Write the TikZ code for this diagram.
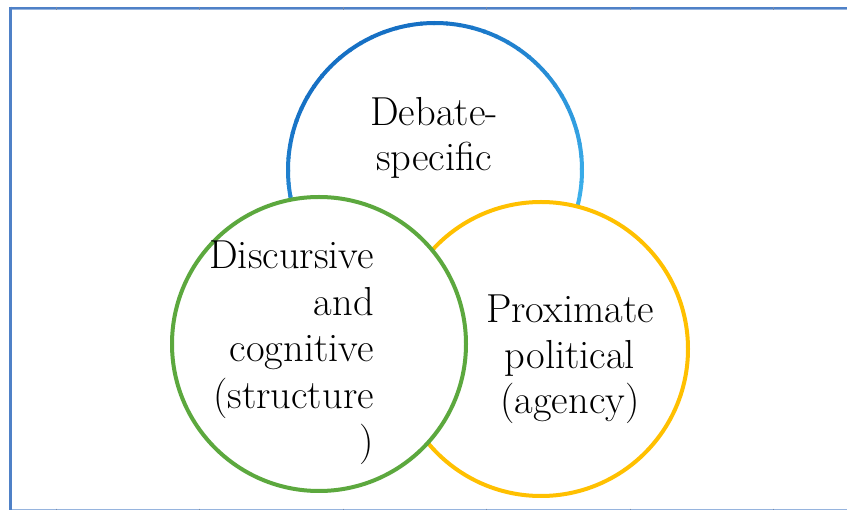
\documentclass[tikz,border=0pt]{standalone}
\definecolor{frameblue}{RGB}{79,129,199}
\definecolor{framelight}{RGB}{150,180,222}
\definecolor{tickgray}{RGB}{120,140,170}
\definecolor{ringdark}{RGB}{22,112,196}
\definecolor{ringlight}{RGB}{70,192,245}
\definecolor{ringgreen}{RGB}{92,168,62}
\definecolor{ringgold}{RGB}{255,192,0}
\begin{document}
\begin{tikzpicture}[x=1pt,y=-1pt,
  ring/.style={circle, minimum size=294pt, inner sep=0pt, outer sep=0pt,
               fill=white, line width=4pt},
  ringtext/.style={inner sep=0pt, font=\fontsize{40.5}{45.5}\selectfont}]
  % page and frame
  \fill[white] (0,0) rectangle (847,510);
  \useasboundingbox (0,0) rectangle (847,510);
  \draw[framelight, line width=1.2pt] (10,509.2) -- (847,509.2);
  \draw[framelight, line width=1.2pt] (10,9.4) -- (847,9.4);
  \draw[frameblue, line width=2pt] (10,7.6) -- (847,7.6);
  \draw[frameblue, line width=2.6pt] (10.3,6.6) -- (10.3,510);
  \foreach \tx in {56,199,343,486,630,773} {
    \draw[tickgray, line width=0.8pt] (\tx,6.6) -- (\tx,10);
    \draw[tickgray, line width=0.8pt] (\tx,508.6) -- (\tx,510);
  }

  % top circle with a shaded blue rim
  \node[ring] (debate) at (435,170) {};
  \foreach \a in {0,5,...,355} {
    \pgfmathsetmacro\mixv{max(0,min(100,55+45*sin(\a)-25*cos(\a)))}
    \draw[line width=4pt, color=ringdark!\mixv!ringlight]
      (debate.\a) arc[start angle=\a, delta angle=5.6, radius=147pt];
  }

  % lower right circle, then lower left circle on top
  \node[ring, draw=ringgold] (proximate) at (541,349) {};
  \node[ring, draw=ringgreen] (discursive) at (319,344) {};

  % texts
  \node[ringtext, align=center] (tdebate) at (434,138) {Debate-\\specific};
  \node[ringtext, align=right, anchor=east,
        font=\fontsize{40.5}{46.5}\selectfont] (tdisc) at (374,353)
    {Discursive\\and\\cognitive\\(structure\\)};
  \node[ringtext, align=center] (tprox) at (570,359.5)
    {Proximate\\political\\(agency)};
\end{tikzpicture}
\end{document}
